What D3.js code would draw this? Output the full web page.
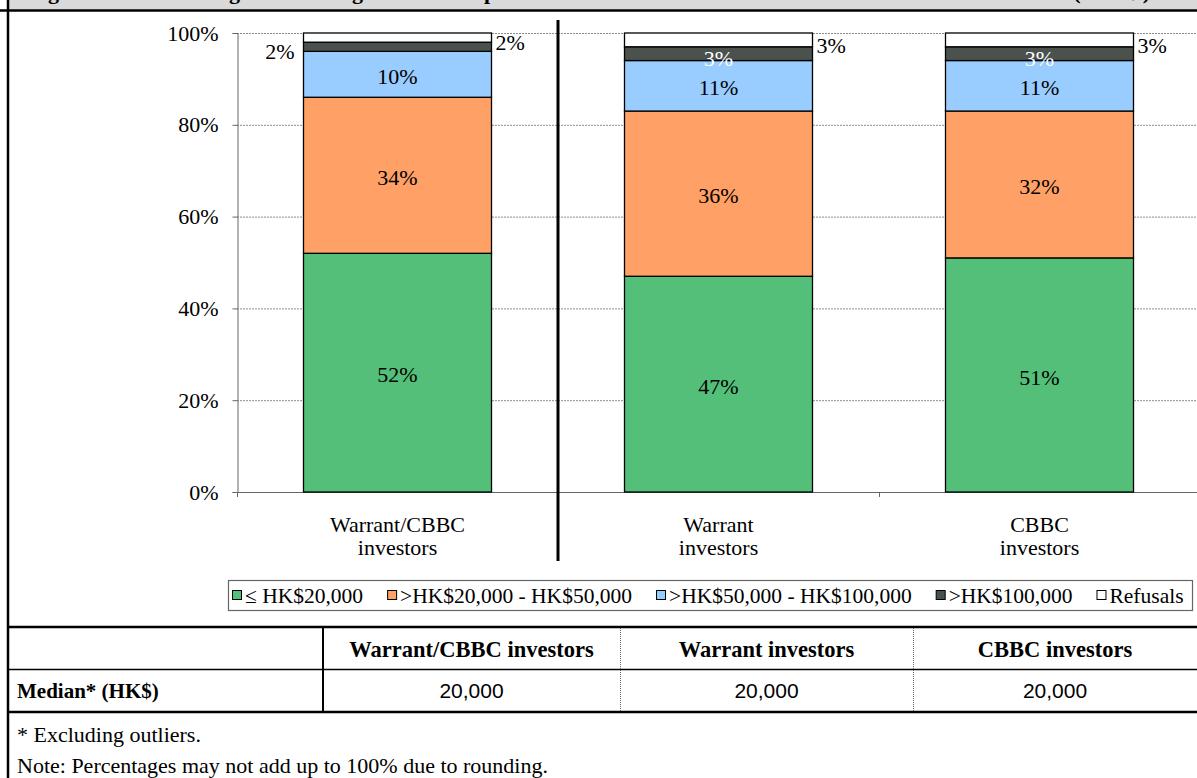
<!DOCTYPE html>
<html>
<head>
<meta charset="utf-8">
<script src="https://cdn.jsdelivr.net/npm/d3@7"></script>
<style>
  body { margin: 0; background: #fff; }
  svg { display: block; }
  text { font-family: "Liberation Serif", "Times New Roman", serif; }
</style>
</head>
<body>
<svg id="chart" width="1197" height="778"></svg>
<script>
// ---- data ----
const categories = ["Warrant/CBBC investors", "Warrant investors", "CBBC investors"];
const categoryLines = [["Warrant/CBBC", "investors"], ["Warrant", "investors"], ["CBBC", "investors"]];
const seriesNames = ["\u2264 HK$20,000", ">HK$20,000 - HK$50,000", ">HK$50,000 - HK$100,000", ">HK$100,000", "Refusals"];
const upTo20k = [52, 47, 51];
const from20kTo50k = [34, 36, 32];
const from50kTo100k = [10, 11, 11];
const over100k = [2, 3, 3];
const refusals = [2, 3, 3];
const yTicks = [0, 20, 40, 60, 80, 100];
const tableHeaders = ["Warrant/CBBC investors", "Warrant investors", "CBBC investors"];
const medianLabel = "Median* (HK$)";
const medianValues = ["20,000", "20,000", "20,000"];
const footnotes = ["* Excluding outliers.", "Note: Percentages may not add up to 100% due to rounding."];
const titleText = "Figure 9: Average trading amount per transaction of warrant/CBBC investors (HK$)";

// ---- styles ----
const colors = ["#53BF78", "#FFA066", "#99CCFF", "#4B524D", "#FFFFFF"];
const fontSize = 22;
const legendFont = 21.5;

const svg = d3.select("#chart");
const W = 1197, H = 778;

// title band (top of the figure frame)
svg.append("rect").attr("x", 8).attr("y", 0).attr("width", W - 8).attr("height", 10).attr("fill", "#D9D9D9");
svg.append("clipPath").attr("id", "titleClip")
  .append("rect").attr("x", 8).attr("y", 0).attr("width", W - 8).attr("height", 9);
svg.append("text")
  .attr("clip-path", "url(#titleClip)")
  .attr("x", 20).attr("y", -1)
  .attr("font-size", 22).attr("font-weight", "bold")
  .attr("textLength", 1130).attr("lengthAdjust", "spacing")
  .text(titleText);
svg.append("line").attr("x1", 0).attr("x2", W).attr("y1", 10.5).attr("y2", 10.5)
  .attr("stroke", "#000").attr("stroke-width", 2.5);
// left frame border
svg.append("line").attr("x1", 8).attr("x2", 8).attr("y1", 0).attr("y2", H)
  .attr("stroke", "#000").attr("stroke-width", 2.5);

// ---- scales ----
const plotLeft = 237, plotRight = 1200, plotTop = 33, plotBottom = 492;
const x = d3.scaleBand().domain(categories).range([plotLeft, plotRight]).paddingInner(0).paddingOuter(0);
const y = d3.scaleLinear().domain([0, 100]).range([plotBottom, plotTop]);
const barWidth = 188;

// gridlines
svg.append("g").selectAll("line").data(yTicks.filter(d => d > 0)).join("line")
  .attr("x1", plotLeft).attr("x2", W)
  .attr("y1", d => y(d) + 0.5).attr("y2", d => y(d) + 0.5)
  .attr("stroke", "#8c8c8c").attr("stroke-width", 1).attr("stroke-dasharray", "2,1");

// y axis
const yAxis = svg.append("g").attr("transform", `translate(${plotLeft + 0.5},0)`)
  .call(d3.axisLeft(y).tickValues(yTicks).tickFormat(d => d + "%").tickSize(5).tickPadding(14));
yAxis.select(".domain").attr("stroke", "#666");
yAxis.selectAll(".tick line").attr("stroke", "#666");
yAxis.selectAll(".tick text").attr("font-size", fontSize).attr("fill", "#000");

// x axis line and category boundary ticks
svg.append("line").attr("x1", plotLeft).attr("x2", W).attr("y1", plotBottom + 0.5).attr("y2", plotBottom + 0.5)
  .attr("stroke", "#666");
svg.append("g").selectAll("line").data(categories).join("line")
  .attr("x1", d => x(d) + 0.5).attr("x2", d => x(d) + 0.5)
  .attr("y1", plotBottom).attr("y2", plotBottom + 5).attr("stroke", "#666");

// category labels
categories.forEach((c, i) => {
  const cx = x(c) + x.bandwidth() / 2;
  const t = svg.append("text").attr("text-anchor", "middle").attr("font-size", fontSize);
  categoryLines[i].forEach((ln, j) => {
    t.append("tspan").attr("x", cx).attr("y", 532 + j * 23).text(ln);
  });
});

// ---- stacked bars ----
const rows = categories.map((c, i) => ({
  category: c,
  s0: upTo20k[i], s1: from20kTo50k[i], s2: from50kTo100k[i], s3: over100k[i], s4: refusals[i]
}));
const keys = ["s0", "s1", "s2", "s3", "s4"];
const stacked = d3.stack().keys(keys)(rows);

const barG = svg.append("g");
stacked.forEach((layer, k) => {
  barG.append("g").selectAll("rect").data(layer).join("rect")
    .attr("x", d => x(d.data.category) + (x.bandwidth() - barWidth) / 2)
    .attr("width", barWidth)
    .attr("y", d => y(d[1]))
    .attr("height", d => y(d[0]) - y(d[1]))
    .attr("fill", colors[k])
    .attr("stroke", "#000").attr("stroke-width", 1.3);
});

// segment value labels
const labelG = svg.append("g").attr("font-size", fontSize);
const darkLabelSide = ["left", "inside", "inside"];
stacked.forEach((layer, k) => {
  layer.forEach((d, i) => {
    const v = d[1] - d[0];
    const cx = x(d.data.category) + x.bandwidth() / 2;
    const left = cx - barWidth / 2, right = cx + barWidth / 2;
    const cy = (y(d[0]) + y(d[1])) / 2;
    const t = labelG.append("text").attr("dy", "0.35em").text(v + "%");
    if (k <= 2) {
      t.attr("x", cx).attr("y", cy + 2).attr("text-anchor", "middle");
    } else if (k === 3) {
      if (darkLabelSide[i] === "left") {
        t.attr("x", left - 9).attr("y", cy + 5).attr("text-anchor", "end");
      } else {
        t.attr("x", cx).attr("y", cy + 5).attr("text-anchor", "middle").attr("fill", "#fff");
      }
    } else {
      t.attr("x", right + 4).attr("y", cy + 5).attr("text-anchor", "start");
    }
  });
});

// separator between the combined group and the individual groups
svg.append("line").attr("x1", x(categories[1])).attr("x2", x(categories[1]))
  .attr("y1", 20).attr("y2", 561).attr("stroke", "#000").attr("stroke-width", 3);

// ---- legend ----
const legend = svg.append("g");
legend.append("rect").attr("x", 228.5).attr("y", 580.5).attr("width", 964).attr("height", 30)
  .attr("fill", "#fff").attr("stroke", "#666").attr("stroke-width", 1.2);
let lx = 232;
seriesNames.forEach((name, k) => {
  legend.append("rect").attr("x", lx + 0.5).attr("y", 590.5).attr("width", 9).attr("height", 9)
    .attr("fill", colors[k]).attr("stroke", "#000").attr("stroke-width", 1);
  const t = legend.append("text").attr("x", lx + 13).attr("y", 603).attr("font-size", legendFont).text(name);
  lx += 13 + t.node().getComputedTextLength() + 24;
});

// ---- median table ----
const tbl = svg.append("g");
const colX = [8, 323, 620, 913, W];
tbl.append("line").attr("x1", 8).attr("x2", W).attr("y1", 627).attr("y2", 627).attr("stroke", "#000").attr("stroke-width", 2.5);
tbl.append("line").attr("x1", 8).attr("x2", W).attr("y1", 669.5).attr("y2", 669.5).attr("stroke", "#000").attr("stroke-width", 1.5);
tbl.append("line").attr("x1", 8).attr("x2", W).attr("y1", 712).attr("y2", 712).attr("stroke", "#000").attr("stroke-width", 2.5);
tbl.append("line").attr("x1", colX[1]).attr("x2", colX[1]).attr("y1", 627).attr("y2", 712).attr("stroke", "#000").attr("stroke-width", 2);
[colX[2], colX[3]].forEach(cx => {
  tbl.append("line").attr("x1", cx + 0.5).attr("x2", cx + 0.5).attr("y1", 628).attr("y2", 711)
    .attr("stroke", "#666").attr("stroke-width", 1).attr("stroke-dasharray", "1,1");
});
tableHeaders.forEach((h, i) => {
  tbl.append("text").attr("x", (colX[i + 1] + colX[i + 2]) / 2).attr("y", 657)
    .attr("text-anchor", "middle").attr("font-size", 22.5).attr("font-weight", "bold").text(h);
});
tbl.append("text").attr("x", 17).attr("y", 698).attr("font-size", 21).attr("font-weight", "bold").text(medianLabel);
medianValues.forEach((v, i) => {
  tbl.append("text").attr("x", (colX[i + 1] + colX[i + 2]) / 2).attr("y", 698)
    .attr("text-anchor", "middle").attr("font-size", 21)
    .style("font-family", "'Liberation Sans', Arial, sans-serif").text(v);
});
footnotes.forEach((f, i) => {
  tbl.append("text").attr("x", 17).attr("y", 742 + i * 31).attr("font-size", 22).text(f);
});
</script>
</body>
</html>
